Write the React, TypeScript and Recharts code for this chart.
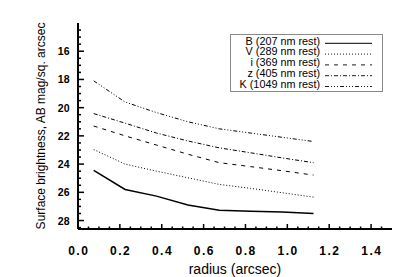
import React from 'react';
import { LineChart, Line, XAxis, YAxis, Legend, Label } from 'recharts';

// radius sample points (arcsec)
const radius = [0.075, 0.225, 0.375, 0.525, 0.675, 0.825, 0.975, 1.125];

// surface brightness per band, AB mag / sq. arcsec
const magB = [24.44, 25.8, 26.27, 26.9, 27.27, 27.35, 27.4, 27.5];
const magV = [22.97, 24.0, 24.5, 24.97, 25.44, 25.72, 26.03, 26.34];
const magI = [21.3, 22.0, 22.65, 23.3, 23.9, 24.18, 24.47, 24.78];
const magZ = [20.42, 21.1, 21.8, 22.36, 22.85, 23.2, 23.56, 23.9];
const magK = [18.1, 19.6, 20.35, 21.0, 21.5, 21.8, 22.1, 22.4];

const seriesKeys = ['B', 'V', 'i', 'z', 'K'];
const seriesNames = ['B (207 nm rest)', 'V (289 nm rest)', 'i (369 nm rest)', 'z (405 nm rest)', 'K (1049 nm rest)'];
const seriesDashes = ['', '1 2', '4 5', '4 2 1 2', '4 2 1 2 1 2 1 2'];

const xMajor = [0, 0.2, 0.4, 0.6, 0.8, 1.0, 1.2, 1.4];
const xMinor = [0.05, 0.1, 0.15, 0.25, 0.3, 0.35, 0.45, 0.5, 0.55, 0.65, 0.7, 0.75, 0.85, 0.9, 0.95, 1.05, 1.1, 1.15, 1.25, 1.3, 1.35, 1.45];
const yMajor = [16, 18, 20, 22, 24, 26, 28];
const yMinor = [14.5, 15, 15.5, 16.5, 17, 17.5, 18.5, 19, 19.5, 20.5, 21, 21.5, 22.5, 23, 23.5, 24.5, 25, 25.5, 26.5, 27, 27.5, 28.5];

const data = radius.map((r, i) => ({
  r,
  B: magB[i],
  V: magV[i],
  i: magI[i],
  z: magZ[i],
  K: magK[i],
}));

const FONT = '"Liberation Sans", Arial, Helvetica, sans-serif';

const XTick = (props: any) => {
  const { x, y, payload, side } = props;
  const v = payload.value;
  const major = xMajor.includes(v);
  const len = major ? 5 : 2.5;
  const dir = side === 'top' ? 1 : -1;
  return (
    <g>
      <line x1={x} x2={x} y1={y} y2={y + dir * len} stroke="#000" strokeWidth={1.5} />
      {side === 'bottom' && major && (
        <text x={x + 0.75} y={y + 26} textAnchor="middle" fontFamily={FONT} fontSize={12}
          fontWeight="bold" letterSpacing={1.5} fill="#000">
          {v.toFixed(1)}
        </text>
      )}
    </g>
  );
};

const YTick = (props: any) => {
  const { x, y, payload, side } = props;
  const v = payload.value;
  const major = yMajor.includes(v);
  const len = major ? 6 : 3;
  const dir = side === 'left' ? 1 : -1;
  return (
    <g>
      <line x1={x} x2={x + dir * len} y1={y} y2={y} stroke="#000" strokeWidth={1.5} />
      {side === 'left' && major && (
        <text x={x - 8.5} y={y + 4} textAnchor="end" fontFamily={FONT} fontSize={10.5}
          fontWeight="bold" fill="#000">
          {v}
        </text>
      )}
    </g>
  );
};

const LegendBox = () => (
  <svg width={153} height={58} style={{ display: 'block' }}>
    <rect x={0.5} y={0.5} width={152} height={57} fill="#fff" stroke="#8a8a8a" strokeWidth={1} />
    {seriesNames.map((name, k) => (
      <g key={name}>
        <text x={90} y={10.6 + k * 10.8} textAnchor="end" fontFamily={FONT} fontSize={10.8} fill="#000">
          {name}
        </text>
        <line x1={95} x2={142} y1={9.3 + k * 10.8} y2={9.3 + k * 10.8} stroke="#000"
          strokeWidth={k === 0 ? 1 : 0.9} strokeDasharray={seriesDashes[k] || undefined} />
      </g>
    ))}
  </svg>
);

const YTitle = (props: any) => {
  const { viewBox } = props;
  const cx = 41;
  const cy = viewBox.y + viewBox.height / 2;
  return (
    <text x={cx} y={cy} transform={`rotate(-90 ${cx} ${cy})`} textAnchor="middle"
      dominantBaseline="central" fontFamily={FONT} fontSize={12} fill="#000">
      Surface brightness, AB mag/sq. arcsec
    </text>
  );
};

export default function App() {
  const axisLine = { stroke: '#000', strokeWidth: 2 };
  return (
    <div style={{ position: 'absolute', left: 0, top: 0, width: 415, height: 277, background: '#fff' }}>
      <LineChart width={415} height={277} data={data} margin={{ top: 23, right: 23, bottom: 0, left: 0 }}>
        <XAxis dataKey="r" type="number" domain={[0, 1.5]} ticks={[...xMajor, ...xMinor]} interval={0}
          height={48} tickSize={0} tickMargin={0} tickLine={false} axisLine={axisLine}
          tick={(p: any) => <XTick {...p} side="bottom" />}>
          <Label value="radius (arcsec)" position="insideBottom" offset={3} fontFamily={FONT}
            fontSize={14} fill="#000" />
        </XAxis>
        <XAxis xAxisId="top" orientation="top" type="number" domain={[0, 1.5]}
          ticks={[...xMajor, ...xMinor]} interval={0} height={0} tickSize={0} tickMargin={0}
          tickLine={false} axisLine={axisLine} tick={(p: any) => <XTick {...p} side="top" />} />
        <YAxis type="number" domain={[14, 28.6]} reversed ticks={[...yMajor, ...yMinor]} interval={0}
          width={78} tickSize={0} tickMargin={0} tickLine={false} axisLine={axisLine}
          tick={(p: any) => <YTick {...p} side="left" />}>
          <Label content={(p: any) => <YTitle {...p} />} />
        </YAxis>
        <YAxis yAxisId="right" orientation="right" type="number" domain={[14, 28.6]} reversed
          ticks={[...yMajor, ...yMinor]} interval={0} width={0} tickSize={0} tickMargin={0}
          tickLine={false} axisLine={axisLine} tick={(p: any) => <YTick {...p} side="right" />} />
        <Legend layout="vertical" align="center" verticalAlign="middle"
          wrapperStyle={{ left: 230, top: 34, width: 153, height: 58 }}
          content={() => <LegendBox />} />
        {seriesKeys.map((key, k) => (
          <Line key={key} type="linear" dataKey={key} name={seriesNames[k]} stroke="#000"
            strokeWidth={k === 0 ? 1.5 : 1} strokeDasharray={seriesDashes[k] || undefined}
            dot={false} isAnimationActive={false} />
        ))}
      </LineChart>
    </div>
  );
}
